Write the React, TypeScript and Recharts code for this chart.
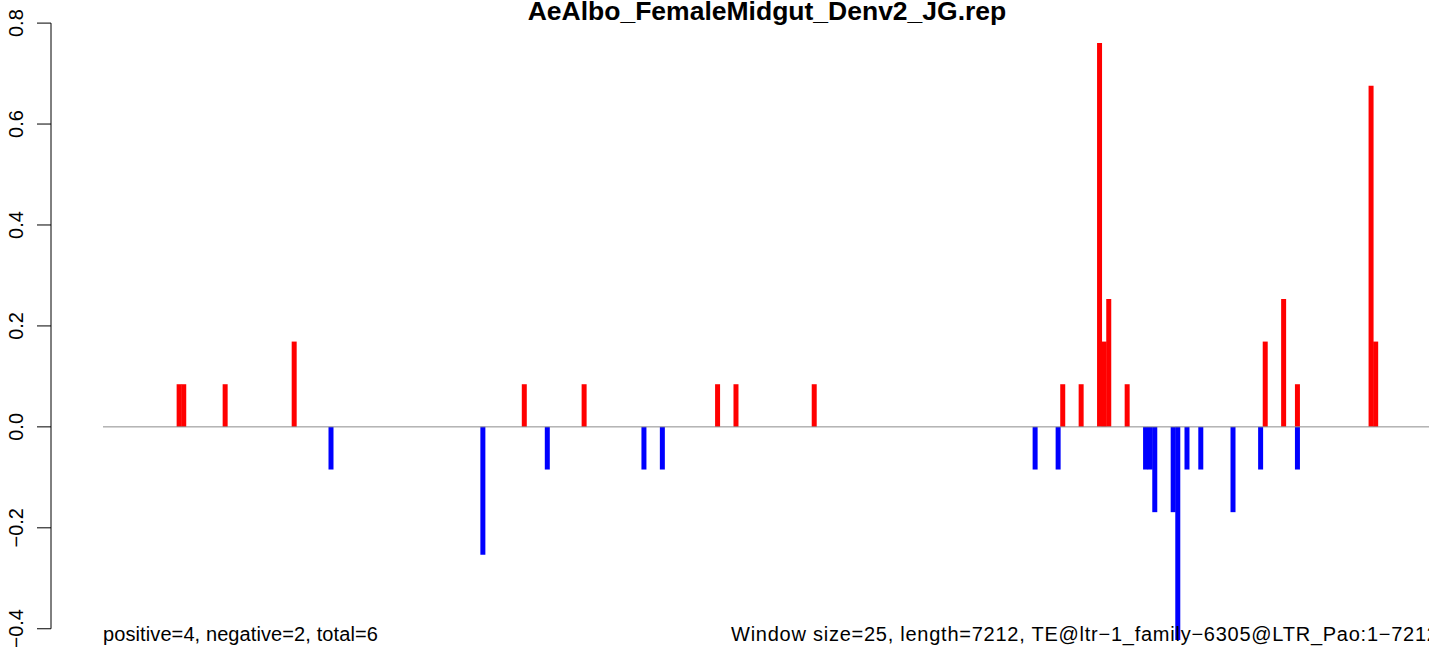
import { BarChart, Bar, XAxis, YAxis, ReferenceLine } from 'recharts'

const TITLE = 'AeAlbo_FemaleMidgut_Denv2_JG.rep'
const NOTE_LEFT = 'positive=4, negative=2, total=6'
const NOTE_RIGHT = 'Window size=25, length=7212, TE@ltr\u22121_family\u22126305@LTR_Pao:1\u22127212'

// 7212 bp / window 25 -> 289 windows
const WINDOWS = 289

// windows with a positive score (red)
const POS_WIN = [16, 17, 26, 41, 91, 104, 133, 137, 154, 208, 212, 216, 217, 218, 222, 252, 256, 259, 275, 276]
const POS_VAL = [0.0845, 0.0845, 0.0845, 0.169, 0.0845, 0.0845, 0.0845, 0.0845, 0.0845, 0.0845, 0.0845, 0.7605, 0.169, 0.2535, 0.0845, 0.169, 0.2535, 0.0845, 0.676, 0.169]

// windows with a negative score (blue)
const NEG_WIN = [49, 82, 96, 117, 121, 202, 207, 226, 227, 228, 232, 233, 235, 238, 245, 251, 259]
const NEG_VAL = [-0.0845, -0.2535, -0.0845, -0.0845, -0.0845, -0.0845, -0.0845, -0.0845, -0.0845, -0.169, -0.169, -0.4225, -0.0845, -0.0845, -0.169, -0.0845, -0.0845]

const Y_TICKS = [-0.4, -0.2, 0, 0.2, 0.4, 0.6, 0.8]

const FONT = '"Liberation Sans", Arial, Helvetica, sans-serif'

const rows = Array.from({ length: WINDOWS }, (_, i) => ({ win: i, pos: 0, neg: 0 }))
POS_WIN.forEach((w, i) => { rows[w].pos = POS_VAL[i] })
NEG_WIN.forEach((w, i) => { rows[w].neg = NEG_VAL[i] })

const fmt = (v: number) => (v < 0 ? '\u2212' : '') + Math.abs(v).toFixed(1)

// y of each tick as recharts places it, so the axis line spans first..last tick (like R)
const tickYs: Record<string, number> = {}

function YTick(props: any) {
  const { x, y, payload } = props
  tickYs[String(payload.value)] = y
  const axisX = x - 52
  const last = payload.value === Y_TICKS[Y_TICKS.length - 1]
  const ys = Object.values(tickYs)
  return (
    <g>
      <line x1={axisX - 14} x2={axisX} y1={y} y2={y} stroke="#000" strokeWidth={1} />
      {last && (
        <line x1={axisX} x2={axisX} y1={Math.min(...ys)} y2={Math.max(...ys)} stroke="#000" strokeWidth={1} />
      )}
      <text
        transform={`translate(${axisX - 28},${y}) rotate(-90)`}
        textAnchor="middle"
        fontSize={20}
        fontFamily={FONT}
        fill="#000"
      >
        {fmt(payload.value)}
      </text>
    </g>
  )
}

export default function App() {
  return (
    <div style={{ position: 'absolute', left: 0, top: 0, width: 1429, height: 647, overflow: 'hidden', background: '#fff' }}>
      <BarChart
        width={1433}
        height={660}
        data={rows}
        margin={{ top: 13, right: 0, bottom: 6, left: 0 }}
        barCategoryGap={0}
        barGap={0}
        stackOffset="sign"
      >
        <XAxis dataKey="win" hide />
        <YAxis
          type="number"
          width={103}
          domain={[-0.45, 0.82]}
          allowDataOverflow
          ticks={Y_TICKS}
          interval={0}
          axisLine={false}
          tickLine={false}
          tickSize={0}
          tickMargin={0}
          tick={YTick}
        />
        <ReferenceLine y={0} stroke="#8c8c8c" strokeWidth={1} />
        <Bar dataKey="pos" stackId="s" fill="#ff0000" isAnimationActive={false} />
        <Bar dataKey="neg" stackId="s" fill="#0000ff" isAnimationActive={false} />
      </BarChart>
      <svg width={1429} height={647} style={{ position: 'absolute', left: 0, top: 0, pointerEvents: 'none' }}>
        <text x={767} y={20} textAnchor="middle" fontSize={26.5} fontWeight="bold" fontFamily={FONT} fill="#000">
          {TITLE}
        </text>
        <text x={103} y={641} fontSize={20} letterSpacing={0.1} fontFamily={FONT} fill="#000">{NOTE_LEFT}</text>
        <text x={731} y={641} fontSize={20} letterSpacing={0.75} fontFamily={FONT} fill="#000">{NOTE_RIGHT}</text>
      </svg>
    </div>
  )
}
